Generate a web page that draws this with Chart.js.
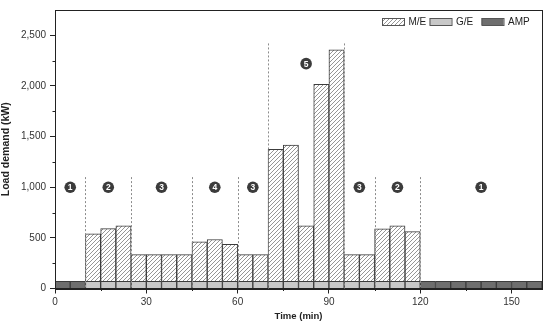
<!DOCTYPE html>
<html>
<head>
<meta charset="utf-8">
<script src="https://cdn.jsdelivr.net/npm/chart.js@4/dist/chart.umd.min.js"></script>
<style>
  html, body { margin: 0; padding: 0; background: #fff; }
  #wrap { width: 550px; height: 328px; }
</style>
</head>
<body>
<div id="wrap"><canvas id="loadChart" width="550" height="328"></canvas></div>
<script>
// time slots, 5 min each (bar centres)
var timeSlots = [2.5, 7.5, 12.5, 17.5, 22.5, 27.5, 32.5, 37.5, 42.5, 47.5, 52.5, 57.5, 62.5, 67.5, 72.5, 77.5,
    82.5, 87.5, 92.5, 97.5, 102.5, 107.5, 112.5, 117.5, 122.5, 127.5, 132.5, 137.5, 142.5, 147.5, 152.5, 157.5];
var ampLoad = [72, 72, null, null, null, null, null, null, null, null, null, null, null, null, null, null,
    null, null, null, null, null, null, null, null, 72, 72, 72, 72, 72, 72, 72, 72];
var geLoad = [null, null, 72, 72, 72, 72, 72, 72, 72, 72, 72, 72, 72, 72, 72, 72,
    72, 72, 72, 72, 72, 72, 72, 72, null, null, null, null, null, null, null, null];
var meLoad = [null, null, 468, 520, 548, 263, 263, 263, 263, 390, 412, 363, 263, 263, 1302, 1345,
    546, 1943, 2284, 263, 263, 516, 546, 490, null, null, null, null, null, null, null, null];
var xTicks = [0, 30, 60, 90, 120, 150];
var yTicks = [0, 500, 1000, 1500, 2000, 2500];

// phase boundaries (dashed lines) and numbered phase markers
var phaseBounds = [10, 25, 45, 60, 70, 95, 105, 120];
var phaseBoundTops = [1100, 1100, 1100, 1100, 2420, 2420, 1100, 1100];
var phaseNums = ['1', '2', '3', '4', '3', '5', '3', '2', '1'];
var phaseNumX = [5, 17.5, 35, 52.5, 65, 82.5, 100, 112.5, 140];
var phaseNumY = [1000, 1000, 1000, 1000, 1000, 2220, 1000, 1000, 1000];

var FONT = '"Liberation Sans", Arial, sans-serif';

var makeHatch = function () {
    var c = document.createElement('canvas');
    c.width = 4; c.height = 4;
    var g = c.getContext('2d');
    g.fillStyle = '#ffffff';
    g.fillRect(0, 0, 4, 4);
    g.strokeStyle = '#8a8a8a';
    g.lineWidth = 0.9;
    g.beginPath();
    g.moveTo(0, 4); g.lineTo(4, 0);
    g.moveTo(-1, 1); g.lineTo(1, -1);
    g.moveTo(3, 5); g.lineTo(5, 3);
    g.stroke();
    return g.createPattern(c, 'repeat');
};
var hatch = makeHatch();

var toPoints = function (vals) {
    return timeSlots.map(function (t, i) { return { x: t, y: vals[i] }; });
};

var extrasPlugin = {
    id: 'extras',
    afterDatasetsDraw: function (chart) {
        var ctx = chart.ctx;
        var xs = chart.scales.x, ys = chart.scales.y;
        var area = chart.chartArea;
        ctx.save();
        // dashed phase lines
        ctx.strokeStyle = '#8c8c8c';
        ctx.lineWidth = 1;
        ctx.setLineDash([2, 2]);
        for (var i = 0; i < phaseBounds.length; i++) {
            var px = Math.round(xs.getPixelForValue(phaseBounds[i])) + 0.5;
            ctx.beginPath();
            ctx.moveTo(px, ys.getPixelForValue(phaseBoundTops[i]));
            ctx.lineTo(px, ys.getPixelForValue(0));
            ctx.stroke();
        }
        ctx.setLineDash([]);
        // phase markers
        for (var j = 0; j < phaseNums.length; j++) {
            var cx = xs.getPixelForValue(phaseNumX[j]);
            var cy = ys.getPixelForValue(phaseNumY[j]);
            ctx.fillStyle = '#3b3b3b';
            ctx.beginPath();
            ctx.arc(cx, cy, 5.8, 0, Math.PI * 2);
            ctx.fill();
            ctx.fillStyle = '#ffffff';
            ctx.font = 'bold 8.5px ' + FONT;
            ctx.textAlign = 'center';
            ctx.textBaseline = 'middle';
            ctx.fillText(phaseNums[j], cx, cy + 0.5);
        }
        // frame
        ctx.strokeStyle = '#222';
        ctx.lineWidth = 1;
        ctx.strokeRect(Math.round(area.left) + 0.5, Math.round(area.top) + 0.5,
            Math.round(area.right - area.left), Math.round(area.bottom - area.top));
        // minor ticks
        ctx.beginPath();
        for (var v = 250; v < 2750; v += 500) {
            var py = Math.round(ys.getPixelForValue(v)) + 0.5;
            ctx.moveTo(area.left - 2.5, py); ctx.lineTo(area.left, py);
        }
        for (var t = 15; t < 160; t += 30) {
            var tx = Math.round(xs.getPixelForValue(t)) + 0.5;
            ctx.moveTo(tx, area.bottom); ctx.lineTo(tx, area.bottom + 2.5);
        }
        ctx.stroke();
        // legend
        var items = [
            { label: 'M/E', fill: hatch },
            { label: 'G/E', fill: '#c8c8c8' },
            { label: 'AMP', fill: '#6e6e6e' }
        ];
        var lx = [382, 429.5, 481.5];
        ctx.font = '10px ' + FONT;
        ctx.textAlign = 'left';
        ctx.textBaseline = 'middle';
        for (var k = 0; k < items.length; k++) {
            ctx.fillStyle = items[k].fill;
            ctx.fillRect(lx[k], 18, 22, 7);
            ctx.strokeStyle = '#555';
            ctx.strokeRect(lx[k] + 0.5, 18.5, 22, 7);
            ctx.fillStyle = '#222';
            ctx.fillText(items[k].label, lx[k] + 26.5, 22);
        }
        ctx.restore();
    }
};

new Chart(document.getElementById('loadChart'), {
    type: 'bar',
    data: {
        datasets: [{
            label: 'AMP',
            data: toPoints(ampLoad),
            backgroundColor: '#6e6e6e',
            borderColor: '#3c3c3c',
            borderWidth: 1
        }, {
            label: 'G/E',
            data: toPoints(geLoad),
            backgroundColor: '#c8c8c8',
            borderColor: '#3c3c3c',
            borderWidth: 1
        }, {
            label: 'M/E',
            data: toPoints(meLoad),
            backgroundColor: hatch,
            borderColor: '#3c3c3c',
            borderWidth: 1
        }]
    },
    options: {
        responsive: false,
        animation: false,
        barPercentage: 1,
        categoryPercentage: 1,
        layout: { padding: { top: 7, right: 8, left: 0, bottom: 0 } },
        plugins: {
            legend: { display: false },
            tooltip: { enabled: false }
        },
        scales: {
            x: {
                type: 'linear',
                stacked: true,
                offset: false,
                min: 0,
                max: 160,
                afterBuildTicks: function (scale) {
                    scale.ticks = xTicks.map(function (v) { return { value: v }; });
                },
                afterFit: function (scale) { scale.height = 39.5; },
                grid: { drawOnChartArea: false, offset: false, tickLength: 5, color: '#222' },
                border: { color: '#222' },
                ticks: { color: '#333', font: { family: FONT, size: 10 }, padding: 3, maxRotation: 0 },
                title: { display: true, text: 'Time (min)', color: '#222', font: { family: FONT, size: 9.5, weight: 'bold' }, padding: { top: 4, bottom: 6 } }
            },
            y: {
                stacked: true,
                min: 0,
                max: 2750,
                afterBuildTicks: function (scale) {
                    scale.ticks = yTicks.map(function (v) { return { value: v }; });
                },
                afterFit: function (scale) { scale.width = 55; },
                grid: { drawOnChartArea: false, tickLength: 5, color: '#222' },
                border: { color: '#222' },
                ticks: {
                    color: '#333',
                    font: { family: FONT, size: 10 },
                    padding: 4,
                    callback: function (v) { return v.toLocaleString('en-US'); }
                },
                title: { display: true, text: 'Load demand (kW)', color: '#222', font: { family: FONT, size: 10.5, weight: 'bold' }, padding: { top: 0, bottom: 3 } }
            }
        }
    },
    plugins: [extrasPlugin]
});
</script>
</body>
</html>
